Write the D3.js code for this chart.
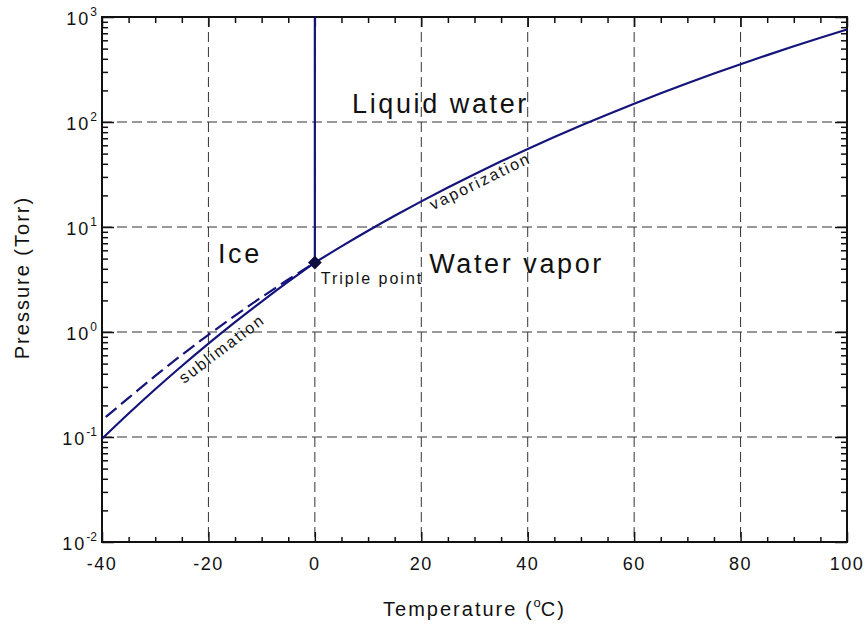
<!DOCTYPE html>
<html>
<head>
<meta charset="utf-8">
<script src="https://cdn.jsdelivr.net/npm/d3@7"></script>
<style>
  body { margin: 0; background: #fff; }
  svg { display: block; font-family: "Liberation Sans", Arial, sans-serif; }
  .grid line { stroke: #333; stroke-width: 1; stroke-dasharray: 10,5; }
  .curve { fill: none; stroke: #14147a; stroke-width: 2.2; }
  .region { font-size: 27px; letter-spacing: 2.6px; fill: #111; }
  .note { font-size: 16px; letter-spacing: 2px; fill: #111; }
</style>
</head>
<body>
<div class="phase_wrapper"></div>
<script>
// vapor pressure over liquid water, Torr (0 .. 100 C)
const vapTemps = [0, 5, 10, 15, 20, 25, 30, 35, 40, 45, 50, 55, 60, 65, 70, 75, 80, 85, 90, 95, 100]
const vapPress = [4.58, 6.54, 9.21, 12.79, 17.54, 23.76, 31.82, 42.18, 55.32, 71.88, 92.51, 118.0, 149.4, 187.5, 233.7, 289.1, 355.1, 433.6, 525.8, 634.0, 760]

// sublimation (over ice), Torr
const subTemps = [-40, -35, -30, -25, -20, -15, -10, -5, 0]
const subPress = [0.0962, 0.1675, 0.2851, 0.4743, 0.7744, 1.240, 1.949, 3.013, 4.58]

// supercooled liquid (dashed), Torr
const superTemps = [-39.3, -35, -30, -25, -20, -15, -10, -5, 0]
const superPress = [0.155, 0.2355, 0.3816, 0.605, 0.9406, 1.433, 2.147, 3.161, 4.58]

// melting line
const meltTemps = [0, 0]
const meltPress = [4.58, 1000]

const triplePoint = { t: 0, p: 4.58 }

const xTicks = [-40, -20, 0, 20, 40, 60, 80, 100]
const yTicks = [1e-2, 1e-1, 1e0, 1e1, 1e2, 1e3]
const yExponents = ["-2", "-1", "0", "1", "2", "3"]
const xGrid = [-20, 0, 20, 40, 60, 80]
const yGrid = [1e-1, 1e0, 1e1, 1e2]

// text labels placed in data space
const regionLabels = [
  { text: "Liquid water", t: 7, p: 122 },
  { text: "Water vapor", t: 21.5, p: 3.65 },
  { text: "Ice", t: -18.2, p: 4.54 }
]
const curveLabels = [
  { text: "Triple point", t: 1.1, p: 2.87, angle: 0 },
  { text: "vaporization", t: 22.2, p: 14.4, angle: -26 },
  { text: "sublimation", t: -24.6, p: 0.32, angle: -37 }
]

let dimensions = {
  width: 865,
  height: 625,
  margin: { top: 17, right: 18, bottom: 83, left: 102 }
}
dimensions.boundedWidth = dimensions.width - dimensions.margin.left - dimensions.margin.right
dimensions.boundedHeight = dimensions.height - dimensions.margin.top - dimensions.margin.bottom

const wrapper = d3.select(".phase_wrapper")
  .append("svg")
  .attr("width", dimensions.width)
  .attr("height", dimensions.height)

const bounds = wrapper.append("g")
  .attr("transform", `translate(${dimensions.margin.left},${dimensions.margin.top})`)

const xScale = d3.scaleLinear()
  .domain([-40, 100])
  .range([0, dimensions.boundedWidth])

const yScale = d3.scaleLog()
  .domain([1e-2, 1e3])
  .range([dimensions.boundedHeight, 0])

// grid
const grid = bounds.append("g").attr("class", "grid")
grid.selectAll(".vg")
  .data(xGrid)
  .join("line")
  .attr("x1", d => xScale(d)).attr("x2", d => xScale(d))
  .attr("y1", 0).attr("y2", dimensions.boundedHeight)
grid.selectAll(".hg")
  .data(yGrid)
  .join("line")
  .attr("class", "hg")
  .attr("x1", 0).attr("x2", dimensions.boundedWidth)
  .attr("y1", d => yScale(d)).attr("y2", d => yScale(d))

// axes: ticks drawn inward on all four sides
const xMinor = d3.range(-40, 100.1, 5).filter(d => d % 20 !== 0)
const yMinor = []
d3.range(-2, 3).forEach(e => d3.range(2, 10).forEach(m => yMinor.push(m * Math.pow(10, e))))

function tickAxis (axisFn, scale, values, size) {
  return axisFn(scale).tickValues(values).tickSize(size).tickFormat("")
}

const axes = bounds.append("g").attr("class", "axes")
axes.append("g")
  .attr("transform", `translate(0,${dimensions.boundedHeight})`)
  .call(tickAxis(d3.axisTop, xScale, xTicks, 10))
axes.append("g")
  .attr("transform", `translate(0,${dimensions.boundedHeight})`)
  .call(tickAxis(d3.axisTop, xScale, xMinor, 5))
axes.append("g")
  .call(tickAxis(d3.axisBottom, xScale, xTicks, 10))
axes.append("g")
  .call(tickAxis(d3.axisBottom, xScale, xMinor, 6))
axes.append("g")
  .call(tickAxis(d3.axisRight, yScale, yTicks, 12))
axes.append("g")
  .call(tickAxis(d3.axisRight, yScale, yMinor, 6))
axes.append("g")
  .attr("transform", `translate(${dimensions.boundedWidth},0)`)
  .call(tickAxis(d3.axisLeft, yScale, yTicks, 12))
axes.append("g")
  .attr("transform", `translate(${dimensions.boundedWidth},0)`)
  .call(tickAxis(d3.axisLeft, yScale, yMinor, 6))
axes.selectAll(".domain").remove()
axes.selectAll(".tick line").attr("stroke", "#111").attr("stroke-width", 1.5)

// frame
bounds.append("rect")
  .attr("width", dimensions.boundedWidth)
  .attr("height", dimensions.boundedHeight)
  .attr("fill", "none")
  .attr("stroke", "#111")
  .attr("stroke-width", 2)

// tick labels
bounds.append("g")
  .selectAll("text")
  .data(xTicks)
  .join("text")
  .attr("x", d => xScale(d))
  .attr("y", dimensions.boundedHeight + 28)
  .attr("text-anchor", "middle")
  .style("font-size", "18px")
  .style("letter-spacing", "1.5px")
  .attr("fill", "#111")
  .text(d => d)

const yLabels = bounds.append("g")
  .selectAll("text")
  .data(yTicks)
  .join("text")
  .attr("x", -5)
  .attr("y", d => yScale(d) + 8)
  .attr("text-anchor", "end")
  .style("font-size", "18px")
  .style("letter-spacing", "2px")
  .attr("fill", "#111")
yLabels.append("tspan").text("10")
yLabels.append("tspan")
  .attr("dy", -9)
  .style("font-size", "12px")
  .style("letter-spacing", "0px")
  .text((d, i) => yExponents[i])

// axis titles
wrapper.append("text")
  .attr("transform", `translate(29,${dimensions.margin.top + yScale(3.3)}) rotate(-90)`)
  .attr("text-anchor", "middle")
  .style("font-size", "20px")
  .style("letter-spacing", "2px")
  .attr("fill", "#111")
  .text("Pressure (Torr)")

const xTitle = wrapper.append("text")
  .attr("x", dimensions.margin.left + xScale(30))
  .attr("y", 616)
  .attr("text-anchor", "middle")
  .style("font-size", "20px")
  .style("letter-spacing", "2px")
  .attr("fill", "#111")
xTitle.append("tspan").text("Temperature (")
xTitle.append("tspan").attr("dy", -9).style("font-size", "13px").style("letter-spacing", "0px").text("o")
xTitle.append("tspan").attr("dy", 9).text("C)")

// curves
const line = d3.line()
  .x(d => xScale(d[0]))
  .y(d => yScale(d[1]))
  .curve(d3.curveMonotoneX)

bounds.append("path")
  .datum(d3.zip(superTemps, superPress))
  .attr("class", "curve")
  .attr("stroke-dasharray", "14,6")
  .attr("d", line)

bounds.append("path")
  .datum(d3.zip(subTemps, subPress))
  .attr("class", "curve")
  .attr("d", line)

bounds.append("path")
  .datum(d3.zip(vapTemps, vapPress))
  .attr("class", "curve")
  .attr("d", line)

bounds.append("path")
  .datum(d3.zip(meltTemps, meltPress))
  .attr("class", "curve")
  .attr("d", d3.line().x(d => xScale(d[0])).y(d => yScale(d[1])))

bounds.append("path")
  .attr("d", d3.symbol(d3.symbolSquare, 95)())
  .attr("transform", `translate(${xScale(triplePoint.t)},${yScale(triplePoint.p)}) rotate(45)`)
  .attr("fill", "#0d0d40")

// labels
bounds.selectAll(".region")
  .data(regionLabels)
  .join("text")
  .attr("class", "region")
  .attr("x", d => xScale(d.t))
  .attr("y", d => yScale(d.p))
  .text(d => d.text)

bounds.selectAll(".note")
  .data(curveLabels)
  .join("text")
  .attr("class", "note")
  .attr("transform", d => `translate(${xScale(d.t)},${yScale(d.p)}) rotate(${d.angle})`)
  .text(d => d.text)
</script>
</body>
</html>
